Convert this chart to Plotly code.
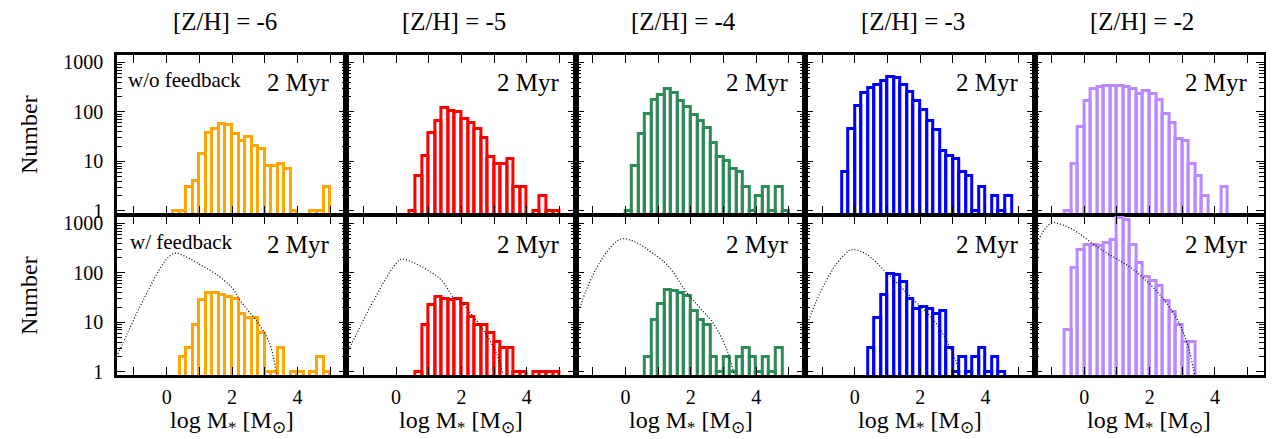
import plotly.graph_objects as go
from plotly.subplots import make_subplots

# ---------------- data ----------------
titles = ["[Z/H] = -6", "[Z/H] = -5", "[Z/H] = -4", "[Z/H] = -3", "[Z/H] = -2"]
colors = ["#FFA500", "#FF0000", "#2E8B57", "#0000FF", "#BB88FF"]
bin_width = 0.2

# top row (w/o feedback): first bin left edge + counts per 0.2-dex bin
top_start = [0.2, 0.4, 0.0, -0.4, -0.6]
top_m6 = [1, 1, 3, 4, 14, 37, 45, 57, 55, 36, 26, 31, 20, 18, 8, 8, 9, 7, 1, 0, 0, 1, 1, 3]
top_m5 = [1, 5, 13, 38, 66, 120, 102, 98, 71, 59, 45, 29, 12, 9, 9, 11, 3, 3, 0, 1, 2, 1, 1]
top_m4 = [1, 8, 35, 92, 170, 218, 285, 244, 165, 124, 88, 66, 47, 23, 12, 10, 7, 6, 3, 1, 2, 3, 1, 3, 1]
top_m3 = [6, 45, 130, 245, 310, 345, 420, 515, 495, 350, 250, 165, 108, 66, 43, 16, 13, 11, 6, 5, 1, 3, 0, 2, 1, 2]
top_m2 = [1, 9, 49, 165, 285, 316, 330, 330, 330, 316, 285, 235, 262, 225, 170, 92, 59, 28, 26, 9, 5, 2, 0, 0, 3]

# bottom row (w/ feedback)
bot_start = [0.4, 0.6, 0.6, 0.4, -0.6]
bot_m6 = [2, 3, 9, 28, 39, 40, 36, 32, 29, 15, 12, 12, 6, 1, 1, 3, 0, 1, 1, 0, 1, 2, 1]
bot_m5 = [1, 9, 22, 32, 30, 28, 29, 23, 13, 9, 9, 6, 4, 3, 3, 1, 1, 0, 1, 1, 1, 1]
bot_m4 = [2, 11, 24, 45, 43, 39, 34, 17, 11, 9, 2, 1, 2, 1, 2, 3, 2, 1, 2, 1, 3]
bot_m3 = [3, 12, 35, 95, 90, 65, 29, 19, 20, 19, 15, 17, 3, 1, 2, 1, 2, 3, 1, 2, 1]
bot_m2 = [7, 125, 295, 360, 360, 355, 405, 470, 1310, 1170, 370, 162, 84, 69, 54, 27, 16, 9, 4, 4]

# dotted reference curves (bottom row): x = log M, y = number
curve_x_m6 = [-1.49, -1.2, -0.9, -0.6, -0.3, 0.0, 0.25, 0.6, 1.0, 1.5, 2.0, 2.23, 2.5, 2.74, 3.0, 3.2, 3.36]
curve_y_m6 = [2.3, 6, 16, 40, 95, 190, 250, 210, 150, 95, 50, 29, 17, 11, 6, 3, 0.9]
curve_x_m5 = [-1.46, -1.2, -0.9, -0.6, -0.3, 0.0, 0.17, 0.5, 1.0, 1.4, 1.76, 2.0, 2.37, 2.78, 3.08, 3.27]
curve_y_m5 = [2.7, 6, 15, 35, 80, 155, 190, 165, 110, 70, 32, 25, 13, 5.4, 2.3, 0.9]
curve_x_m4 = [-1.43, -1.2, -0.9, -0.6, -0.3, -0.1, 0.3, 0.8, 1.3, 1.89, 2.3, 2.7, 3.11, 3.32]
curve_y_m4 = [17, 45, 120, 250, 420, 490, 420, 260, 140, 39, 19, 9.3, 2.7, 0.9]
curve_x_m3 = [-1.41, -1.2, -0.9, -0.6, -0.3, -0.11, 0.3, 0.99, 1.7, 2.42, 2.83, 3.08, 3.23]
curve_y_m3 = [11, 25, 65, 140, 240, 295, 250, 98, 33, 11, 4, 1.7, 0.9]
curve_x_m2 = [-1.43, -1.3, -1.15, -0.97, -0.6, -0.2, 0.41, 1.0, 1.43, 2.0, 2.45, 2.86, 3.16, 3.37]
curve_y_m2 = [410, 620, 850, 1030, 900, 650, 330, 190, 126, 60, 28, 11, 3.6, 0.9]

x_tickvals = [-1, 0, 1, 2, 3, 4, 5]
x_ticktext = ["", "0", "", "2", "", "4", ""]
y_tickvals = [1, 10, 100, 1000]
y_ticktext = ["1", "10", "100", "1000"]

top_counts = [top_m6, top_m5, top_m4, top_m3, top_m2]
bot_counts = [bot_m6, bot_m5, bot_m4, bot_m3, bot_m2]
curves = [(curve_x_m6, curve_y_m6), (curve_x_m5, curve_y_m5), (curve_x_m4, curve_y_m4),
          (curve_x_m3, curve_y_m3), (curve_x_m2, curve_y_m2)]

# ---------------- figure ----------------
# the page body adds an 8px offset; lay out in viewport pixels and shift
OFF = 8
VW, VH = 1274, 439
PL, PR, PT, PB = 117, 1264, 55, 375          # plot area in viewport pixels
W, H = VW - OFF, VH - OFF
ML, MT = PL - OFF, PT - OFF
MR = W - (PR - OFF)
MB = H - (PB - OFF)

fig = make_subplots(rows=2, cols=5, horizontal_spacing=0, vertical_spacing=2.0 / (PB - PT))

SERIF = "Liberation Serif, Times New Roman, Times, serif"


def add_hist(row, col, start, counts, color):
    xs, ys = [], []
    for i, n in enumerate(counts):
        if n > 0:
            xs.append(round(start + bin_width * (i + 0.5), 3))
            ys.append(n)
    fig.add_trace(go.Bar(x=xs, y=ys, width=bin_width,
                         marker=dict(color="rgba(255,255,255,0)",
                                     line=dict(color=color, width=3)),
                         showlegend=False, hoverinfo="x+y"),
                  row=row, col=col)


for c in range(5):
    add_hist(1, c + 1, top_start[c], top_counts[c], colors[c])
    add_hist(2, c + 1, bot_start[c], bot_counts[c], colors[c])
    cx, cy = curves[c]
    fig.add_trace(go.Scatter(x=cx, y=cy, mode="lines", line_shape="spline",
                             line=dict(color="black", width=1.2, dash="1px,2px"),
                             showlegend=False, hoverinfo="skip"),
                  row=2, col=c + 1)

minor_vals = [m * 10 ** e for e in range(-1, 4) for m in range(2, 10)]

for r in (1, 2):
    for c in range(1, 6):
        fig.update_xaxes(row=r, col=c, range=[-1.52, 5.5], automargin=False,
                         tickmode="array", tickvals=x_tickvals, ticktext=x_ticktext,
                         showticklabels=(r == 2), ticklabelstandoff=2,
                         ticks="inside", ticklen=8, tickwidth=1.3, tickcolor="black",
                         showline=True, linewidth=2.5, linecolor="black", mirror="ticks",
                         showgrid=False, zeroline=False,
                         tickfont=dict(family=SERIF, size=20, color="black"))
        fig.update_yaxes(row=r, col=c, type="log", range=[-0.065, 3.15], automargin=False,
                         tickmode="array", tickvals=y_tickvals, ticktext=y_ticktext,
                         showticklabels=(c == 1), ticklabelstandoff=7,
                         ticks="inside", ticklen=8, tickwidth=1.3, tickcolor="black",
                         minor=dict(ticks="inside", ticklen=5, tickwidth=1,
                                    tickcolor="black", tickmode="array",
                                    tickvals=minor_vals, showgrid=False),
                         showline=True, linewidth=2.5, linecolor="black", mirror="ticks",
                         showgrid=False, zeroline=False,
                         tickfont=dict(family=SERIF, size=20, color="black"))

annotations = []
PWT = PR - PL
PH = PB - PT


def px_to_paper_y(vy):
    return (PB - vy) / PH


def px_to_paper_x(vx):
    return (vx - PL) / PWT


for c in range(5):
    xc_px = PL + (c + 0.5) * PWT / 5.0
    annotations.append(dict(text=titles[c], x=px_to_paper_x(xc_px - 7), y=px_to_paper_y(21),
                            xref="paper", yref="paper",
                            showarrow=False, xanchor="center", yanchor="middle",
                            font=dict(family=SERIF, size=25, color="black")))
    annotations.append(dict(text="log M<sub>*</sub> [M<sub>\u2299</sub>]", x=px_to_paper_x(xc_px),
                            y=px_to_paper_y(422),
                            xref="paper", yref="paper", showarrow=False,
                            xanchor="center", yanchor="middle",
                            font=dict(family=SERIF, size=24, color="black")))
    xr_px = PL + (c + 1) * PWT / 5.0 - 15
    annotations.append(dict(text="2 Myr", x=px_to_paper_x(xr_px), y=px_to_paper_y(82),
                            xref="paper", yref="paper",
                            showarrow=False, xanchor="right", yanchor="middle",
                            font=dict(family=SERIF, size=25, color="black")))
    annotations.append(dict(text="2 Myr", x=px_to_paper_x(xr_px), y=px_to_paper_y(244),
                            xref="paper", yref="paper",
                            showarrow=False, xanchor="right", yanchor="middle",
                            font=dict(family=SERIF, size=25, color="black")))

annotations.append(dict(text="w/o feedback", x=px_to_paper_x(126), y=px_to_paper_y(80),
                        xref="paper", yref="paper", showarrow=False, xanchor="left", yanchor="middle",
                        font=dict(family=SERIF, size=21, color="black")))
annotations.append(dict(text="w/ feedback", x=px_to_paper_x(128), y=px_to_paper_y(242),
                        xref="paper", yref="paper", showarrow=False, xanchor="left", yanchor="middle",
                        font=dict(family=SERIF, size=21, color="black")))
for yc in (134, 295):
    annotations.append(dict(text="Number", x=px_to_paper_x(29), y=px_to_paper_y(yc),
                            xref="paper", yref="paper", showarrow=False, textangle=-90,
                            xanchor="center", yanchor="middle",
                            font=dict(family=SERIF, size=24, color="black")))

fig.update_layout(width=W, height=H, autosize=False,
                  margin=dict(l=ML, r=MR, t=MT, b=MB, autoexpand=False),
                  paper_bgcolor="white", plot_bgcolor="white",
                  bargap=0, barmode="overlay",
                  annotations=annotations,
                  font=dict(family=SERIF, color="black"))

fig.write_html("out.html")
